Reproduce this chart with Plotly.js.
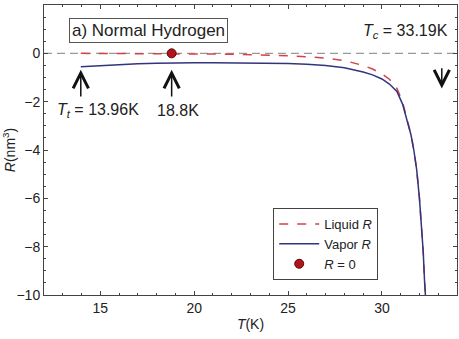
<!DOCTYPE html>
<html>
<head>
<meta charset="utf-8">
<script src="https://cdn.plot.ly/plotly-3.0.1.min.js"></script>
<style>html,body{margin:0;padding:0;background:#fff;}#chart{width:459px;height:339px;}</style>
</head>
<body>
<div id="chart"></div>
<script>
// Data
const liquidT = [13.96, 15, 16, 17, 18, 19, 20, 21, 22, 23, 24, 25, 26, 27, 28, 28.5, 29, 29.5, 30, 30.4, 30.8, 31.1, 31.35, 31.55, 31.7, 31.85, 32.0, 32.1, 32.2, 32.27, 32.34];
const liquidR = [0.0, 0.0, 0.0, -0.01, -0.01, -0.01, -0.02, -0.03, -0.04, -0.05, -0.07, -0.1, -0.14, -0.2, -0.3, -0.39, -0.5, -0.65, -0.85, -1.07, -1.45, -2.02, -2.72, -3.36, -4.0, -4.8, -6.0, -7.0, -8.2, -9.4, -10.3];
const vaporT = [13.96, 15, 16, 17, 18, 19, 20, 21, 22, 23, 24, 25, 26, 27, 28, 28.5, 29, 29.5, 30, 30.4, 30.8, 31.1, 31.35, 31.55, 31.7, 31.85, 32.0, 32.1, 32.2, 32.27, 32.34];
const vaporR = [-0.55, -0.5, -0.46, -0.43, -0.41, -0.39, -0.39, -0.39, -0.39, -0.4, -0.41, -0.42, -0.45, -0.5, -0.6, -0.67, -0.77, -0.89, -1.06, -1.27, -1.58, -2.1, -2.76, -3.38, -4.0, -4.8, -6.0, -7.0, -8.2, -9.4, -10.3];
const zeroT = [18.8];
const zeroR = [0];
const tripleT = 13.96, zeroPointT = 18.8, criticalT = 33.19;
const xTicks = [15, 20, 25, 30];
const yTicks = [-10, -8, -6, -4, -2, 0, 2];

const FONT = 'Liberation Sans, Arial, sans-serif';
const traces = [
  {x: liquidT, y: liquidR, mode: 'lines', name: 'Liquid <i>R</i>',
   line: {color: '#d2414c', width: 1.5, dash: 'dash'}},
  {x: vaporT, y: vaporR, mode: 'lines', name: 'Vapor <i>R</i>',
   line: {color: '#34347e', width: 1.5}},
  {x: zeroT, y: zeroR, mode: 'markers', name: '<i>R</i> = 0',
   marker: {color: '#b3141b', size: 9, line: {color: '#5a0a0a', width: 1}}}
];

const arrow = (x, yHead, yTail) => ({
  x: x, y: yHead, ax: x, ay: yTail, xref: 'x', yref: 'y', axref: 'x', ayref: 'y',
  text: '', showarrow: true, arrowhead: 5, arrowsize: 2, arrowwidth: 1.5, arrowcolor: '#111'
});

const layout = {
  width: 459, height: 339,
  margin: {l: 44, r: 2, t: 5, b: 44},
  paper_bgcolor: '#ffffff', plot_bgcolor: '#ffffff',
  font: {family: FONT, size: 14, color: '#222'},
  showlegend: true,
  legend: {x: 0.555, y: 0.3, xanchor: 'left', yanchor: 'top', bgcolor: '#fff',
           bordercolor: '#444', borderwidth: 1, font: {family: FONT, size: 13, color: '#222'},
           tracegroupgap: 0, itemwidth: 40},
  xaxis: {range: [12, 34], tickvals: xTicks, ticks: 'inside', ticklen: 4, tickcolor: '#444',
          showgrid: false, zeroline: false, showline: true, linecolor: '#444', linewidth: 1,
          mirror: 'ticks', minor: {dtick: 1, ticks: 'inside', ticklen: 2, tickcolor: '#444'},
          tickfont: {family: FONT, size: 14, color: '#222'},
          title: {text: '<i>T</i>(K)', font: {family: FONT, size: 14, color: '#222'}, standoff: 4}},
  yaxis: {range: [-10, 2], tickvals: yTicks, ticks: 'inside', ticklen: 4, tickcolor: '#444',
          showgrid: false, zeroline: false, showline: true, linecolor: '#444', linewidth: 1,
          mirror: 'ticks', minor: {dtick: 0.5, ticks: 'inside', ticklen: 2, tickcolor: '#444'},
          tickfont: {family: FONT, size: 14, color: '#222'},
          title: {text: '<i>R</i>(nm<sup>3</sup>)', font: {family: FONT, size: 14, color: '#222'}, standoff: 2}},
  shapes: [
    {type: 'line', xref: 'paper', x0: 0, x1: 1, yref: 'y', y0: 0, y1: 0,
     line: {color: '#999', width: 1.3, dash: '8px,5px'}, layer: 'below'}
  ],
  annotations: [
    {x: 17.55, y: 0.93, xref: 'x', yref: 'y', text: 'a) Normal Hydrogen', showarrow: false,
     font: {family: FONT, size: 17, color: '#222'}, bordercolor: '#555', borderwidth: 1,
     borderpad: 2, bgcolor: '#fff'},
    {x: 33.65, y: 0.9, xref: 'x', yref: 'y', xanchor: 'right', showarrow: false,
     text: '<i>T</i><sub><i>c</i></sub> = ' + criticalT.toFixed(2) + 'K',
     font: {family: FONT, size: 16, color: '#222'}},
    {x: 14.9, y: -2.35, xref: 'x', yref: 'y', showarrow: false,
     text: '<i>T</i><sub><i>t</i></sub> = ' + tripleT.toFixed(2) + 'K',
     font: {family: FONT, size: 16, color: '#222'}},
    {x: 19.15, y: -2.35, xref: 'x', yref: 'y', showarrow: false,
     text: zeroPointT + 'K', font: {family: FONT, size: 16, color: '#222'}},
    arrow(tripleT, -0.68, -1.85),
    arrow(zeroPointT, -0.68, -1.85),
    {x: criticalT, y: -1.45, ax: criticalT, ay: -0.55, xref: 'x', yref: 'y', axref: 'x', ayref: 'y',
     text: '', showarrow: true, arrowhead: 5, arrowsize: 2, arrowwidth: 1.5, arrowcolor: '#111'}
  ]
};

Plotly.newPlot('chart', traces, layout, {displayModeBar: false, staticPlot: true});
</script>
</body>
</html>
